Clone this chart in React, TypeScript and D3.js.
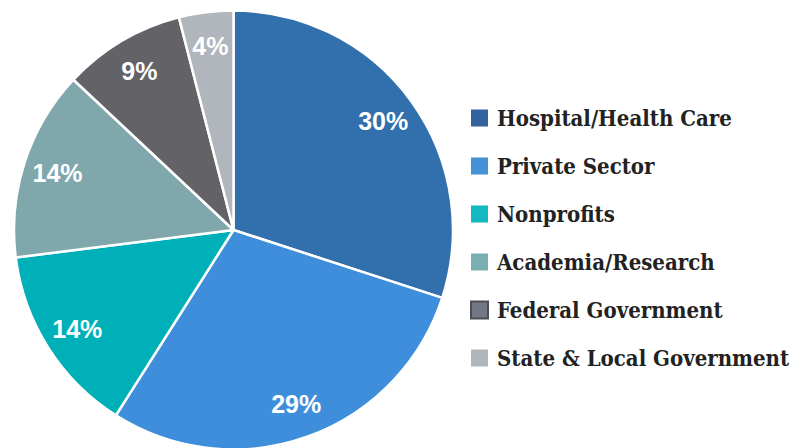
import React from "react";
import * as d3 from "d3";

const categories = [
  "Hospital/Health Care",
  "Private Sector",
  "Nonprofits",
  "Academia/Research",
  "Federal Government",
  "State & Local Government",
];
const values = [30, 29, 14, 14, 9, 4];
const colors = ["#3270AD", "#3E8EDC", "#00B0B8", "#7FA7AC", "#636267", "#B1B5BC"];
const legendColors = ["#3263A0", "#4293D6", "#13B8C0", "#79AEB3", "#737884", "#B1B5BE"];
const legendStrokes = ["none", "none", "none", "none", "#4E4E52", "none"];

export default function App() {
  const width = 795;
  const height = 448;
  const cx = 233.5;
  const cy = 230;
  const r = 219.5;
  const labelR = 185;

  const pie = d3.pie<number>().sort(null).value((d) => d)(values);
  const arc = d3.arc<d3.PieArcDatum<number>>().innerRadius(0).outerRadius(r);
  const labelArc = d3.arc<d3.PieArcDatum<number>>().innerRadius(labelR).outerRadius(labelR);

  const legendY = d3.scalePoint<number>().domain(d3.range(categories.length)).range([118, 358]);

  return (
    <svg width={width} height={height} style={{ position: "absolute", left: 0, top: 0, display: "block" }}>
      <rect width={width} height={height} fill="#fff" />
      <g transform={`translate(${cx},${cy})`}>
        {pie.map((p, i) => (
          <path key={i} d={arc(p) || ""} fill={colors[i]} stroke="#fff" strokeWidth={2.5} strokeLinejoin="round" />
        ))}
        {pie.map((p, i) => {
          const [x, y] = labelArc.centroid(p);
          return (
            <text
              key={"l" + i}
              x={x}
              y={y}
              textAnchor="middle"
              dominantBaseline="central"
              fill="#fff"
              fontFamily="'Liberation Sans', Arial, sans-serif"
              fontWeight="bold"
              fontSize={25}
            >
              {values[i]}%
            </text>
          );
        })}
      </g>
      {categories.map((c, i) => {
        const y = legendY(i)!;
        return (
          <g key={"g" + i}>
            <rect
              x={471}
              y={y - 8.5}
              width={17}
              height={17}
              fill={legendColors[i]}
              stroke={legendStrokes[i]}
              strokeWidth={legendStrokes[i] === "none" ? 0 : 2}
            />
            <text
              x={497}
              y={y}
              dominantBaseline="central"
              fill="#222"
              fontFamily="'DejaVu Serif Condensed', 'DejaVu Serif', serif"
              fontWeight="bold"
              fontSize={22}
            >
              {c}
            </text>
          </g>
        );
      })}
    </svg>
  );
}
